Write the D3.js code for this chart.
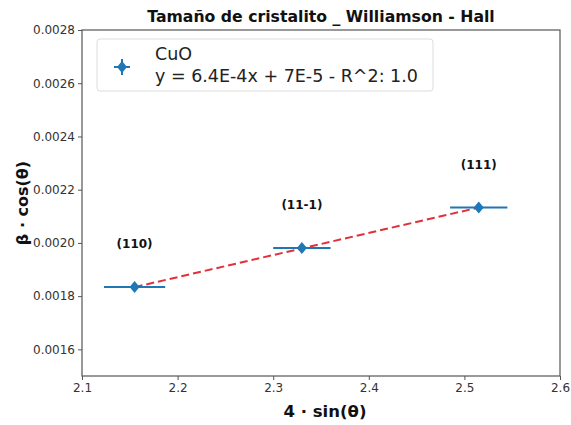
<!DOCTYPE html>
<html>
<head>
<meta charset="utf-8">
<script src="https://cdn.jsdelivr.net/npm/d3@7"></script>
<style>
  body { margin: 0; background: #fff; }
  text { font-family: "DejaVu Sans", sans-serif; }
</style>
</head>
<body>
<div id="chart"></div>
<script>
// data
var xVals = [2.155, 2.33, 2.515];
var yVals = [0.001834, 0.001981, 0.002133];
var xErr = [0.032, 0.03, 0.03];
var planes = ["(110)", "(11-1)", "(111)"];
var xTicks = [2.1, 2.2, 2.3, 2.4, 2.5, 2.6];
var yTicks = [0.0016, 0.0018, 0.0020, 0.0022, 0.0024, 0.0026, 0.0028];

var width = 571, height = 425;
var margin = {left: 82, right: 11, top: 30, bottom: 49};

var svg = d3.select("#chart").append("svg")
	.attr("width", width)
	.attr("height", height);

var x = d3.scaleLinear().domain([2.1, 2.6]).range([margin.left, width - margin.right]);
var y = d3.scaleLinear().domain([0.0015, 0.0028]).range([height - margin.bottom, margin.top]);

var blue = "#1f77b4";

// axes
var xAxis = svg.append("g")
	.attr("transform", "translate(0," + (height - margin.bottom) + ")")
	.call(d3.axisBottom(x).tickValues(xTicks).tickFormat(d3.format(".1f")).tickSizeOuter(0).tickSize(4));
var yAxis = svg.append("g")
	.attr("transform", "translate(" + margin.left + ",0)")
	.call(d3.axisLeft(y).tickValues(yTicks).tickFormat(d3.format(".4f")).tickSizeOuter(0).tickSize(4));

[xAxis, yAxis].forEach(function(a){
	a.select(".domain").remove();
	a.selectAll("text").attr("font-size", 12).attr("fill", "#333");
	a.selectAll("line").attr("stroke", "#555");
});

// frame
svg.append("rect")
	.attr("x", margin.left)
	.attr("y", margin.top)
	.attr("width", width - margin.left - margin.right)
	.attr("height", height - margin.top - margin.bottom)
	.attr("fill", "none")
	.attr("stroke", "#555")
	.attr("stroke-width", 1.2);

// fit line (dashed red)
svg.append("line")
	.attr("x1", x(xVals[0])).attr("y1", y(yVals[0]))
	.attr("x2", x(xVals[2])).attr("y2", y(yVals[2]))
	.attr("stroke", "#e0303a")
	.attr("stroke-width", 2)
	.attr("stroke-dasharray", "8,4");

var pts = d3.range(xVals.length);

// horizontal error bars
svg.selectAll(".err")
	.data(pts).enter()
	.append("line")
	.attr("x1", function(i){ return x(xVals[i] - xErr[i]); })
	.attr("x2", function(i){ return x(xVals[i] + xErr[i]); })
	.attr("y1", function(i){ return y(yVals[i]); })
	.attr("y2", function(i){ return y(yVals[i]); })
	.attr("stroke", blue)
	.attr("stroke-width", 2);

// diamond markers
svg.selectAll(".pt")
	.data(pts).enter()
	.append("path")
	.attr("d", "M0,-6L5,0L0,6L-5,0Z")
	.attr("transform", function(i){ return "translate(" + x(xVals[i]) + "," + y(yVals[i]) + ")"; })
	.attr("fill", blue);

// plane labels
svg.selectAll(".lbl")
	.data(pts).enter()
	.append("text")
	.attr("x", function(i){ return x(xVals[i]); })
	.attr("y", function(i){ return y(yVals[i]) - 39; })
	.attr("text-anchor", "middle")
	.attr("font-size", 12)
	.attr("font-weight", "bold")
	.attr("fill", "#111")
	.text(function(i){ return planes[i]; });

// legend
var lg = svg.append("g").attr("transform", "translate(97,39)");
lg.append("rect")
	.attr("width", 336).attr("height", 52)
	.attr("rx", 3)
	.attr("fill", "#fff")
	.attr("stroke", "#ddd");
lg.append("line").attr("x1", 17).attr("x2", 33).attr("y1", 28).attr("y2", 28).attr("stroke", blue).attr("stroke-width", 2);
lg.append("line").attr("x1", 25).attr("x2", 25).attr("y1", 20).attr("y2", 36).attr("stroke", blue).attr("stroke-width", 2);
lg.append("path").attr("d", "M0,-6L5,0L0,6L-5,0Z").attr("transform", "translate(25,28)").attr("fill", blue);
lg.append("text").attr("x", 58).attr("y", 21).attr("font-size", 17.5).attr("fill", "#222").text("CuO");
lg.append("text").attr("x", 58).attr("y", 43).attr("font-size", 17.5).attr("fill", "#222").text("y = 6.4E-4x + 7E-5 - R^2: 1.0");

// title and axis labels
svg.append("text")
	.attr("x", (margin.left + width - margin.right) / 2)
	.attr("y", 22)
	.attr("text-anchor", "middle")
	.attr("font-size", 15.7)
	.attr("font-weight", "bold")
	.attr("fill", "#111")
	.text("Tamaño de cristalito _ Williamson - Hall");

svg.append("text")
	.attr("x", (margin.left + width - margin.right) / 2 + 4)
	.attr("y", 417)
	.attr("text-anchor", "middle")
	.attr("font-size", 16.5)
	.attr("font-weight", "bold")
	.attr("fill", "#111")
	.text("4 · sin(θ)");

svg.append("text")
	.attr("transform", "translate(28," + ((margin.top + height - margin.bottom) / 2) + ") rotate(-90)")
	.attr("text-anchor", "middle")
	.attr("font-size", 16)
	.attr("font-weight", "bold")
	.attr("fill", "#111")
	.text("β · cos(θ)");
</script>
</body>
</html>
